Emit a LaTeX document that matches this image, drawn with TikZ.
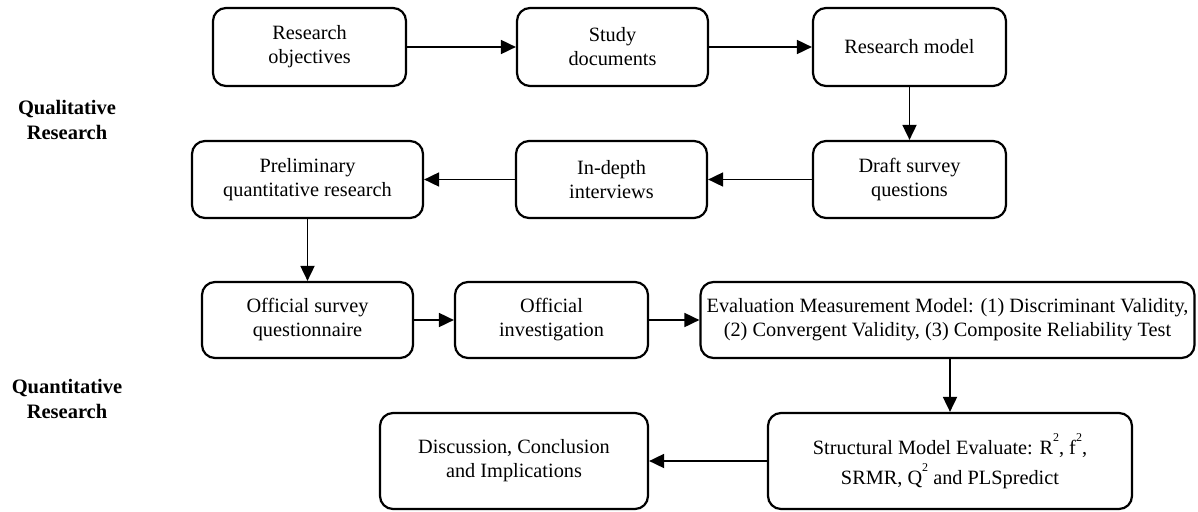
\documentclass[tikz,border=0pt]{standalone}
\usepackage{fontspec}
\setmainfont{Liberation Serif}
\usetikzlibrary{arrows.meta}
\newcommand{\supt}{\raisebox{12.5pt}{\fontsize{12}{12}\selectfont 2}}
\begin{document}
\begin{tikzpicture}[x=1pt,y=-1pt,
  box/.style={draw, line width=2.2pt, rounded corners=13pt, align=center, inner sep=0pt, font=\fontsize{20.3}{24}\selectfont},
  conn/.style={line width=1.8pt, -{Triangle[length=15pt,width=14pt]}},
  lbl/.style={align=center, font=\fontsize{20.5}{25}\selectfont\bfseries}]
\useasboundingbox (0,0) rectangle (1198,511);
\node[box, minimum width=193pt, minimum height=78pt] (n1) at (309.5,47) {Research\\objectives};
\node[box, minimum width=191pt, minimum height=78pt] (n2) at (612.5,47) {Study\\documents};
\node[box, minimum width=193pt, minimum height=78pt] (n3) at (909.5,47) {Research model};
\node[box, minimum width=193pt, minimum height=77pt] (n4) at (909.5,179.5) {Draft survey\\questions};
\node[box, minimum width=191pt, minimum height=77pt] (n5) at (611.5,179.5) {In-depth\\interviews};
\node[box, minimum width=231pt, minimum height=77pt] (n6) at (307.5,179.5) {Preliminary\\quantitative research};
\node[box, minimum width=211pt, minimum height=76pt] (n7) at (307.5,320) {Official survey\\questionnaire};
\node[box, minimum width=193pt, minimum height=76pt] (n8) at (551.5,320) {Official\\investigation};
\node[box, minimum width=494pt, minimum height=76pt] (n9) at (947.5,320) {Evaluation Measurement Model: (1) Discriminant Validity,\\(2) Convergent Validity, (3) Composite Reliability Test};
\node[box, minimum width=364pt, minimum height=96pt] (n10) at (950,461) {Structural Model Evaluate: R\supt, f\supt,\\[6pt]SRMR, Q\supt{} and PLSpredict};
\node[box, minimum width=268pt, minimum height=96pt] (n11) at (514,461) {Discussion, Conclusion\\and Implications};
\node[lbl] (q1) at (67,120) {Qualitative\\Research};
\node[lbl] (q2) at (67,399) {Quantitative\\Research};
\draw[conn] (n1) -- (n2);
\draw[conn] (n2) -- (n3);
\draw[conn] (n3) -- (n4);
\draw[conn] (n4) -- (n5);
\draw[conn] (n5) -- (n6);
\draw[conn] (n6) -- (n7);
\draw[conn] (n7) -- (n8);
\draw[conn] (n8) -- (n9);
\draw[conn] (n9.south -| n10.north) -- (n10.north);
\draw[conn] (n10) -- (n11);
\end{tikzpicture}
\end{document}
